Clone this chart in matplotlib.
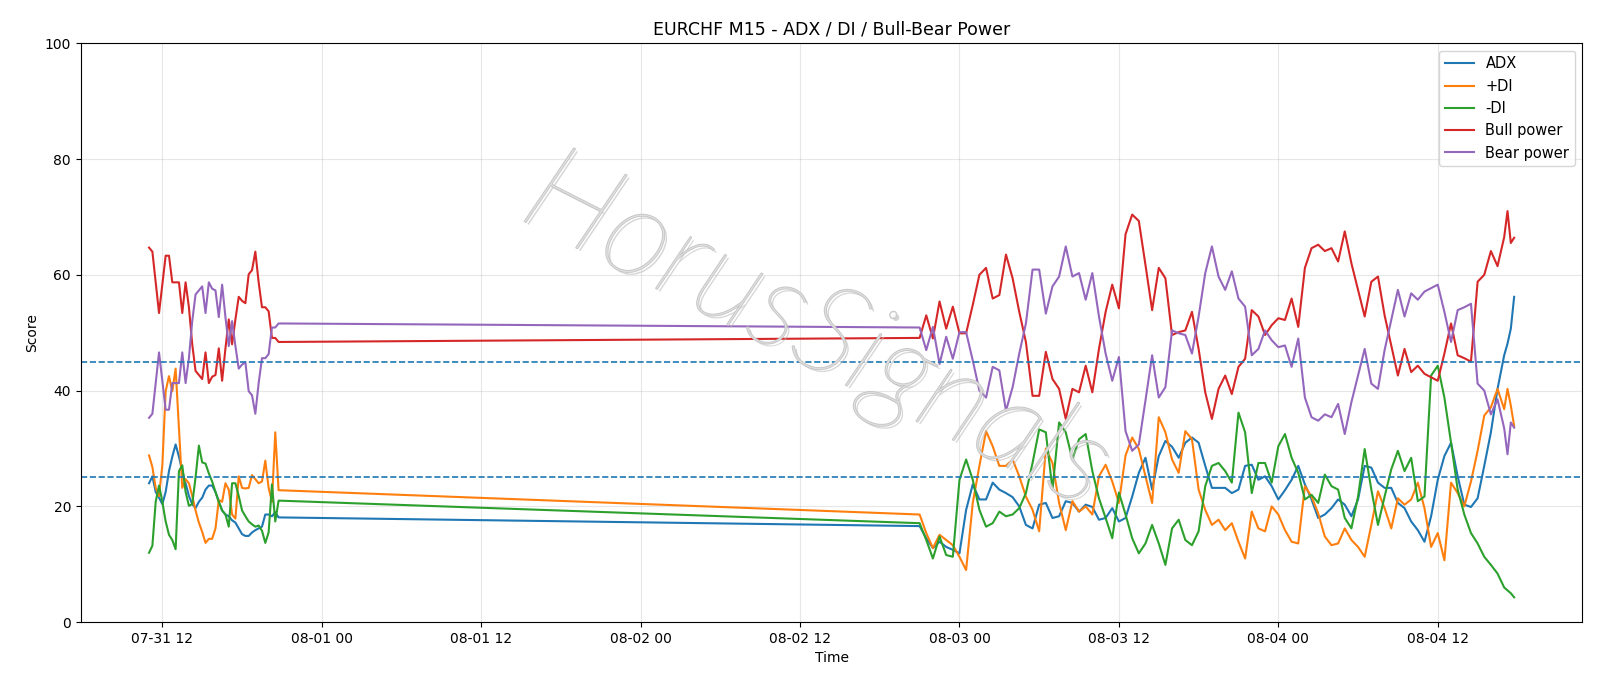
import matplotlib
matplotlib.use("Agg")
import matplotlib.pyplot as plt
import matplotlib.dates as mdates
import matplotlib.patheffects as pe
import pandas as pd

# ---- data ----
seg1_start = "2025-07-31 11:00"
seg2_start = "2025-08-02 21:00"
seg2_tail = ["2025-08-04 17:15", "2025-08-04 17:30", "2025-08-04 17:45"]

adx1 = [24,25.2,22.5,21.5,20.4,22.5,26.1,28.6,30.7,28.6,26.1,24,21.8,20.4,19.7,20.8,21.5,22.9,23.6,23.6,
        22.5,20.8,19.3,18.6,18.3,17.6,17.2,16.2,15.2,14.9,14.9,15.5,15.9,16.2,16.5,18.6,18.6,18.3,19,18.1]
pdi1 = [28.8,26.8,23.2,21.8,27.1,39.9,42.5,39.9,43.8,33.5,23.2,24.7,24,21.8,19.3,17.2,15.6,13.7,14.4,14.4,
        16.2,21.1,20.8,24,22.9,18.6,17.9,25.2,23.2,23.1,23.2,25.4,24.7,24,24.3,27.9,23.2,20.8,32.8,22.8]
mdi1 = [12,13.2,20.8,23.6,20.8,17.4,15.1,14.2,12.6,26.1,27.1,22.5,20.1,20.4,25,30.5,27.6,27.4,25.7,24.3,
        22.5,20.8,19.3,18.6,16.5,24,24,21.8,19.3,18.3,17.4,16.9,16.5,16.7,15.8,13.7,15.5,23.8,17.4,21]
bull1 = [64.7,64,58.7,53.4,58.3,63.3,63.3,58.7,58.7,58.7,53.4,58.7,54.4,48,43.4,42.7,42,46.6,41.3,42.4,
         42.7,47.3,41.7,47.3,52.3,48,52.3,56.2,55.5,55.1,60.1,60.8,64,58.7,54.4,54.4,53.7,49.1,49.1,48.4]
bear1 = [35.3,36,41.3,46.6,41.7,36.7,36.7,41.3,41.3,41.3,46.6,41.3,45.6,52,56.6,57.3,58,53.4,58.7,57.6,
         57.3,52.7,58.3,52.7,47.7,52,47.7,43.8,44.5,44.9,39.9,39.2,36,41.3,45.6,45.6,46.3,50.9,50.9,51.6]

adx2 = [16.6,14.5,12.8,13.9,13,12.5,11.9,19.4,23.8,21.2,21.2,24.1,22.9,22.3,21.6,20,16.8,16.2,20.3,20.6,18,
        18.3,20.9,20.6,19.1,20.3,19.9,17.7,18,19.7,17.4,18,21.7,25.8,28.4,22.9,28.7,31.3,30.3,28.4,31,31.9,31,
        27,23.2,23.2,23.2,22.3,22.9,27,27.2,24.6,25.2,23.5,21.2,22.8,24.6,27,23.8,21.2,18,18.6,19.7,21.2,20.3,18.3,
        21.2,27,26.7,24.1,23.2,23.2,20.6,19.7,17.4,15.9,13.9,18.3,24.6,28.7,31,25.2,20.3,19.9,21.4,27,32.8,40.3,
        46.1,48.1,50.7,56.2]
pdi2 = [18.6,15.4,12.8,15.1,14.2,13.3,11.3,9,20.6,27,33,30.4,27,27,28.1,25.2,21.7,19.4,15.7,30,27.5,
        20.6,15.9,20.9,19.1,20,18.6,25.2,27.2,24.3,20.6,28.8,31.9,29.9,25.2,20.6,35.4,32.8,28.1,25.8,33,31.6,22.9,
        19.4,16.8,17.7,15.9,17.1,13.9,11,19.1,16.2,15.7,20,18.6,15.9,13.9,13.6,23.5,21.7,18.8,14.8,13.3,13.6,16.2,14.2,
        13,11.3,16.8,22.6,19.7,16.2,21.4,20.3,21.2,24.1,19.7,13,15.4,10.7,24.1,22.3,20,24.3,29.6,35.7,37.1,40.3,
        36.8,40.3,37.4,33.9]
mdi2 = [17.1,14.2,11,14.8,11.6,11.3,24.6,28.1,24.6,19.4,16.5,17.1,19.1,18.3,18.6,19.7,22.3,27.5,33.3,32.8,22.9,
        34.5,32.8,28.1,31.6,32.5,26.1,21.4,18,14.5,22.4,18.6,14.5,11.9,13.6,16.8,13.6,9.9,16.2,17.7,14.2,13.3,15.7,
        23.5,27,27.5,26.1,24.1,36.2,32.8,22.3,27.5,27.5,24.1,30.4,32.5,28.4,25.8,21.2,22,20.6,25.5,23.5,22.9,18,16.2,
        21.7,29.9,22.9,16.8,21.7,26.4,29.6,26.1,28.4,20.9,21.7,42.6,44.3,38.8,31,22.9,18.6,15.4,13.6,11.3,9.9,8.4,
        6,5.5,5,4.3]
bull2 = [49.1,53,49,55.4,50.7,54.5,49.9,49.9,54.8,60,61.2,55.9,56.5,63.5,59.4,53.6,48.4,39.1,39.1,46.7,42,
         40.3,35.1,40.3,39.7,44.3,39.7,47.2,53.6,58.3,54.2,67,70.4,69.3,61.7,53.9,61.2,59.4,49.6,50.1,50.4,53.6,47.2,
         39.7,35.1,40.3,42.6,39.4,44.1,45.5,53.9,52.8,49.6,51.3,52.5,52.2,55.9,51,61.2,64.6,65.2,64.1,64.6,62.3,67.5,62,
         57.4,52.8,58.8,59.7,53,47.8,42.6,47.2,43.2,44.3,42.9,42.3,41.7,46.4,51.6,46.1,45.6,45,58.8,60,64.1,
         61.5,66.5,71,65.5,66.4]
bear2 = [50.9,47,51,44.6,49.3,45.5,50.1,50.1,45.2,40,38.8,44.1,43.5,36.5,40.6,46.4,51.6,60.9,60.9,53.3,58,
         59.7,64.9,59.7,60.3,55.7,60.3,52.8,46.4,41.7,45.8,33,29.6,30.7,38.3,46.1,38.8,40.6,50.4,49.9,49.6,46.4,52.8,
         60.3,64.9,59.7,57.4,60.6,55.9,54.5,46.1,47.2,50.4,48.7,47.5,47.8,44.1,49,38.8,35.4,34.8,35.9,35.4,37.7,32.5,38,
         42.6,47.2,41.2,40.3,47,52.2,57.4,52.8,56.8,55.7,57.1,57.7,58.3,53.6,48.4,53.9,54.4,55,41.2,40,35.9,
         38.5,33.5,29,34.5,33.6]

levels = [45, 25]

# ---- build ----
t1 = pd.date_range(seg1_start, periods=len(adx1), freq="15min")
t2 = pd.date_range(seg2_start, periods=len(adx2) - len(seg2_tail), freq="30min").append(pd.DatetimeIndex(seg2_tail))
t = t1.append(t2)

series = [("ADX", adx1 + adx2), ("+DI", pdi1 + pdi2), ("-DI", mdi1 + mdi2),
          ("Bull power", bull1 + bull2), ("Bear power", bear1 + bear2)]
colors = ["#1f77b4", "#ff7f0e", "#2ca02c", "#d62728", "#9467bd"]

fig, ax = plt.subplots(figsize=(16, 6.86), dpi=100)
fig.subplots_adjust(left=0.0505, right=0.989, top=0.937, bottom=0.093)

for (name, vals), c in zip(series, colors):
    ax.plot(t, vals, color=c, lw=1.5, label=name)
for lv in levels:
    ax.axhline(lv, color="#1f77b4", ls="--", lw=1.2)

ax.set_ylim(0, 100)
ax.grid(True, alpha=0.3)
ax.xaxis.set_major_locator(mdates.HourLocator(byhour=[0, 12]))
ax.xaxis.set_major_formatter(mdates.DateFormatter("%m-%d %H"))
ax.set_title("EURCHF M15 - ADX / DI / Bull-Bear Power", fontsize=12.5)
ax.set_xlabel("Time")
ax.set_ylabel("Score")
ax.legend(loc="upper right", fontsize=10.5)

ax.text(0.49, 0.5, "HorusSignals", transform=ax.transAxes, fontsize=90, rotation=-27,
        ha="center", va="center", color=(1, 1, 1, 0.45), zorder=5, family="Lato", fontweight="light",
        fontstyle="italic",
        path_effects=[pe.SimplePatchShadow(offset=(2, -2), shadow_rgbFace="#bbbbbb", alpha=0.6),
                      pe.withStroke(linewidth=1.2, foreground="#c4c4c4")])

fig.savefig("out.png")
